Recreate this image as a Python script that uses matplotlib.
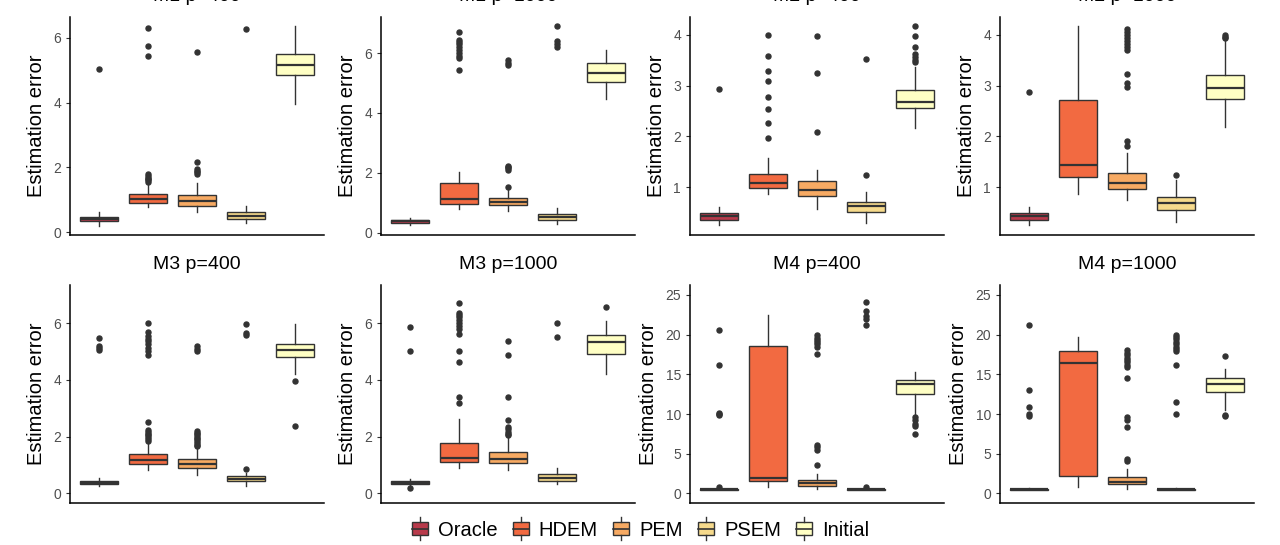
import matplotlib
matplotlib.use("Agg")
import matplotlib.pyplot as plt
from matplotlib.patches import Rectangle
from matplotlib.lines import Line2D
from matplotlib.legend_handler import HandlerBase

plt.rcParams['font.family'] = ['Liberation Sans', 'DejaVu Sans']

methods = ["Oracle", "HDEM", "PEM", "PSEM", "Initial"]
colors = ["#B83A4B", "#F26A41", "#F7AA63", "#F6DA8C", "#FFFFC4"]

titles = ["M1 p=400", "M1 p=1000", "M2 p=400", "M2 p=1000",
          "M3 p=400", "M3 p=1000", "M4 p=400", "M4 p=1000"]

# (whisker low, q1, median, q3, whisker high) per method
m1_400_stats = [(0.20, 0.33, 0.39, 0.46, 0.63), (0.76, 0.91, 1.02, 1.19, 1.52),
                (0.62, 0.79, 0.95, 1.13, 1.50), (0.27, 0.41, 0.50, 0.62, 0.80),
                (3.95, 4.85, 5.15, 5.51, 6.36)]
m1_400_out = [[5.02], [1.56, 1.6, 1.64, 1.68, 1.72, 1.8, 5.44, 5.75, 6.31],
              [1.8, 1.85, 1.9, 1.95, 2.17, 5.55], [6.26], []]

m1_1000_stats = [(0.27, 0.33, 0.38, 0.43, 0.50), (0.78, 0.96, 1.14, 1.65, 2.04),
                 (0.72, 0.93, 1.02, 1.16, 1.45), (0.28, 0.43, 0.52, 0.63, 0.82),
                 (4.46, 5.03, 5.35, 5.66, 6.11)]
m1_1000_out = [[], [5.44, 5.85, 5.92, 6.0, 6.1, 6.2, 6.3, 6.38, 6.45, 6.7],
               [1.54, 2.1, 2.15, 2.2, 2.24, 5.6, 5.68, 5.78], [6.2, 6.3, 6.4, 6.91], []]

m2_400_stats = [(0.25, 0.36, 0.42, 0.48, 0.60), (0.86, 0.99, 1.08, 1.26, 1.58),
                (0.57, 0.82, 0.94, 1.12, 1.34), (0.30, 0.50, 0.62, 0.71, 0.91),
                (2.16, 2.55, 2.67, 2.91, 3.37)]
m2_400_out = [[2.93], [1.96, 2.27, 2.54, 2.78, 3.09, 3.28, 3.58, 4.0],
              [2.09, 3.24, 3.98], [1.24, 3.53],
              [3.46, 3.51, 3.57, 3.63, 3.76, 3.98, 4.17]]

m2_1000_stats = [(0.25, 0.36, 0.42, 0.48, 0.60), (0.86, 1.20, 1.43, 2.71, 4.17),
                 (0.74, 0.96, 1.08, 1.28, 1.68), (0.31, 0.55, 0.68, 0.81, 1.14),
                 (2.19, 2.73, 2.96, 3.20, 3.90)]
m2_1000_out = [[2.88], [],
               [1.8, 1.9, 2.98, 3.04, 3.22, 3.7, 3.76, 3.82, 3.88, 3.94, 4.0, 4.06, 4.12],
               [1.24], [3.93, 3.96, 3.99]]

m3_400_stats = [(0.25, 0.32, 0.36, 0.42, 0.53), (0.81, 1.02, 1.16, 1.38, 1.81),
                (0.64, 0.89, 1.03, 1.22, 1.61), (0.27, 0.44, 0.52, 0.62, 0.72),
                (4.21, 4.81, 5.06, 5.27, 5.98)]
m3_400_out = [[5.06, 5.12, 5.2, 5.47],
              [1.86, 1.92, 1.98, 2.04, 2.1, 2.16, 2.22, 2.51, 4.89, 5.0, 5.12,
               5.25, 5.35, 5.45, 5.55, 5.67, 6.0],
              [1.66, 1.72, 1.78, 1.84, 1.9, 1.96, 2.02, 2.08, 2.14, 2.2, 5.0, 5.1, 5.18],
              [0.85, 5.58, 5.65, 5.98], [3.95, 2.37]]

m3_1000_stats = [(0.27, 0.33, 0.38, 0.43, 0.50), (0.91, 1.11, 1.26, 1.77, 2.63),
                 (0.81, 1.06, 1.20, 1.46, 2.00), (0.32, 0.44, 0.55, 0.68, 0.88),
                 (4.22, 4.92, 5.33, 5.59, 6.08)]
m3_1000_out = [[0.18, 5.03, 5.86],
               [3.2, 3.4, 4.62, 5.0, 5.6, 5.8, 5.9, 6.0, 6.1, 6.2, 6.3, 6.35, 6.7],
               [2.05, 2.1, 2.15, 2.25, 2.35, 2.58, 3.4, 4.88, 5.38],
               [5.5, 6.0], [6.58]]

m4_400_stats = [(0.40, 0.45, 0.50, 0.55, 0.62), (0.84, 1.50, 2.00, 18.6, 22.41),
                (0.60, 0.88, 1.25, 1.75, 2.38), (0.40, 0.45, 0.50, 0.55, 0.62),
                (9.95, 12.46, 13.8, 14.34, 15.3)]
m4_400_out = [[0.75, 9.85, 10.0, 10.15, 16.22, 20.61], [],
              [3.55, 5.5, 5.8, 6.1, 17.56, 18.5, 18.8, 19.05, 19.3, 19.6, 19.95],
              [0.75, 21.2, 22.0, 22.4, 23.0, 24.08], [9.6, 9.2, 8.8, 8.5, 7.53]]

m4_1000_stats = [(0.40, 0.45, 0.50, 0.55, 0.62), (0.84, 2.13, 16.39, 17.89, 19.65),
                 (0.60, 1.13, 1.45, 2.09, 3.05), (0.40, 0.45, 0.50, 0.55, 0.62),
                 (10.5, 12.75, 13.75, 14.55, 15.68)]
m4_1000_out = [[9.7, 10.0, 10.91, 13.0, 21.2], [],
               [4.1, 4.3, 8.4, 9.3, 9.6, 14.5, 15.9, 16.2, 16.5, 16.8, 17.1, 17.4, 17.7, 18.0],
               [10.0, 11.45, 16.2, 17.9, 18.2, 18.5, 18.8, 19.1, 19.4, 19.7, 20.0],
               [9.7, 9.9, 17.27]]

panel_stats = [m1_400_stats, m1_1000_stats, m2_400_stats, m2_1000_stats,
               m3_400_stats, m3_1000_stats, m4_400_stats, m4_1000_stats]
panel_out = [m1_400_out, m1_1000_out, m2_400_out, m2_1000_out,
             m3_400_out, m3_1000_out, m4_400_out, m4_1000_out]

y_limits = [(-0.09, 6.64), (-0.08, 7.21), (0.055, 4.35), (0.055, 4.35),
            (-0.34, 7.34), (-0.34, 7.34), (-1.21, 26.25), (-1.21, 26.25)]
y_ticks = [[0, 2, 4, 6], [0, 2, 4, 6], [1, 2, 3, 4], [1, 2, 3, 4],
           [0, 2, 4, 6], [0, 2, 4, 6], [0, 5, 10, 15, 20, 25], [0, 5, 10, 15, 20, 25]]

W, H = 1280, 545
fig = plt.figure(figsize=(W / 100, H / 100), dpi=100)

col_left = [70, 381, 690, 1000]
row_top = [17, 285]
ax_w, ax_h = 254, 218
edge = "#333333"

for i in range(8):
    r, c = divmod(i, 4)
    ax = fig.add_axes([col_left[c] / W, (H - row_top[r] - ax_h) / H, ax_w / W, ax_h / H])
    boxes = []
    for s, o in zip(panel_stats[i], panel_out[i]):
        boxes.append(dict(whislo=s[0], q1=s[1], med=s[2], q3=s[3], whishi=s[4], fliers=o))
    bp = ax.bxp(boxes, positions=range(1, 6), widths=0.78, patch_artist=True,
                showcaps=False,
                boxprops=dict(edgecolor=edge, linewidth=1.0),
                whiskerprops=dict(color=edge, linewidth=1.0),
                medianprops=dict(color=edge, linewidth=1.6),
                flierprops=dict(marker='o', markersize=3.6, markerfacecolor=edge,
                                markeredgecolor=edge, linestyle='none'))
    for patch, col in zip(bp['boxes'], colors):
        patch.set_facecolor(col)
    ax.set_xlim(0.4, 5.6)
    ax.set_ylim(*y_limits[i])
    ax.set_yticks(y_ticks[i])
    ax.set_xticks([])
    ax.spines['top'].set_visible(False)
    ax.spines['right'].set_visible(False)
    ax.spines['left'].set_linewidth(1.1)
    ax.spines['bottom'].set_linewidth(1.1)
    ax.tick_params(axis='y', labelsize=10, labelcolor='#4D4D4D', color='#333333',
                   length=3, width=0.8)
    ax.set_ylabel("Estimation error", fontsize=14.5, labelpad=5)
    # top-row titles sit partly above the figure edge, as in the original
    ax.annotate(titles[i], xy=(0.5, 1), xycoords='axes fraction', xytext=(0, 14.5),
                textcoords='offset points', ha='center', va='center', fontsize=14)


class BoxKeyHandler(HandlerBase):
    def create_artists(self, legend, orig_handle, xdescent, ydescent, width, height,
                       fontsize, trans):
        cx = width / 2 - xdescent
        bw = width * 0.9
        bh = height * 0.9
        y0 = (height - bh) / 2 - ydescent
        rect = Rectangle((cx - bw / 2, y0), bw, bh, facecolor=orig_handle.get_facecolor(),
                         edgecolor=edge, linewidth=1.0, transform=trans)
        med = Line2D([cx - bw / 2, cx + bw / 2], [y0 + bh / 2] * 2, color=edge,
                     linewidth=1.2, transform=trans)
        w1 = Line2D([cx, cx], [y0 - 3, y0], color=edge, linewidth=1.0, transform=trans)
        w2 = Line2D([cx, cx], [y0 + bh, y0 + bh + 3], color=edge, linewidth=1.0,
                    transform=trans)
        return [rect, med, w1, w2]


handles = [Rectangle((0, 0), 1, 1, facecolor=col) for col in colors]
fig.legend(handles, methods, handler_map={Rectangle: BoxKeyHandler()},
           loc='center', bbox_to_anchor=(0.5, 15 / H), ncol=5, frameon=False,
           fontsize=14.5, handlelength=0.9, handleheight=0.8, handletextpad=0.45,
           columnspacing=0.7)

fig.savefig("out.png", dpi=100)
